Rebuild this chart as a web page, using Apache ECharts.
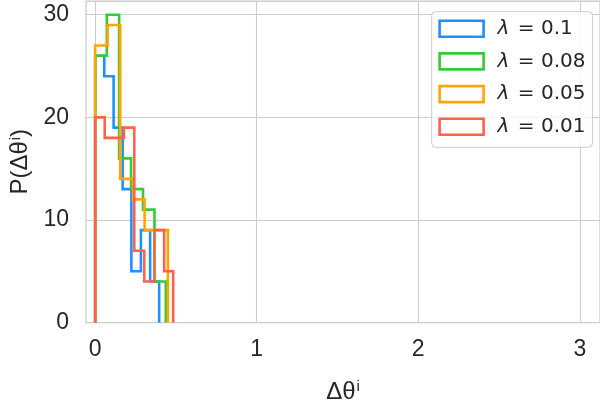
<!DOCTYPE html>
<html>
<head>
<meta charset="utf-8">
<script src="https://cdn.jsdelivr.net/npm/echarts@6/dist/echarts.min.js"></script>
<style>
html,body{margin:0;padding:0;background:#fff;}
#chart{width:600px;height:409px;}
</style>
</head>
<body>
<div id="chart"></div>
<script>
// ---- data (bin edges and counts per series) ----
const lambdaLabels = ['0.1', '0.08', '0.05', '0.01'];
const seriesColors = ['#1e90ff', '#32cd32', '#ffa500', '#ff6347'];

const edgesL01  = [0, 0.056, 0.114, 0.170, 0.224, 0.283, 0.340, 0.396];
const countsL01 = [26, 24, 19, 13, 5, 9, 4];

const edgesL008  = [0, 0.072, 0.148, 0.222, 0.296, 0.367, 0.437];
const countsL008 = [26, 30, 16, 13, 11, 4];

const edgesL005  = [0, 0.077, 0.155, 0.234, 0.306, 0.378, 0.450];
const countsL005 = [27, 29, 14, 12, 9, 9];

const edgesL001  = [0, 0.059, 0.119, 0.178, 0.242, 0.304, 0.366, 0.427, 0.483];
const countsL001 = [20, 18, 18, 19, 7, 4, 9, 5];

const xTicks = [0, 1, 2, 3];
const yTicks = [0, 10, 20, 30];

const allEdges = [edgesL01, edgesL008, edgesL005, edgesL001];
const allCounts = [countsL01, countsL008, countsL005, countsL001];

// step-outline (matplotlib histtype='step') built from edges and counts
function stepOutline(edges, counts) {
  const pts = [[edges[0], 0]];
  for (let i = 0; i < counts.length; i++) {
    pts.push([edges[i], counts[i]]);
    pts.push([edges[i + 1], counts[i]]);
  }
  pts.push([edges[edges.length - 1], 0]);
  return pts;
}

const names = lambdaLabels.map(v => 'λ = ' + v);
const series = names.map((n, i) => ({
  name: n,
  type: 'line',
  data: stepOutline(allEdges[i], allCounts[i]),
  showSymbol: false,
  symbol: 'none',
  lineStyle: { color: seriesColors[i], width: 2.6, join: 'miter', cap: 'butt' },
  itemStyle: { color: seriesColors[i] },
  z: 2 + i,
  animation: false
}));

const textColor = '#262626';
const gridColor = '#cccccc';
const font = 'Liberation Sans, Arial, sans-serif';

const chart = echarts.init(document.getElementById('chart'), null, { renderer: 'canvas' });
chart.setOption({
  animation: false,
  backgroundColor: '#ffffff',
  grid: {
    left: 84, right: -1, top: 1, bottom: 80.7,
    show: true, borderColor: gridColor, borderWidth: 1.25, backgroundColor: 'transparent'
  },
  xAxis: {
    type: 'value',
    min: -0.057, max: 3.125,
    axisLine: { show: false },
    axisTick: { show: false, customValues: xTicks },
    axisLabel: {
      customValues: xTicks,
      color: textColor, fontSize: 23, fontFamily: font,
      margin: 16
    },
    splitLine: { show: true, lineStyle: { color: gridColor, width: 1.1 } },
    name: 'Δθ{s|i}',
    nameLocation: 'middle',
    nameGap: 57,
    nameTextStyle: {
      color: textColor, fontSize: 24, fontFamily: font,
      rich: { s: { fontSize: 15, verticalAlign: 'top', padding: [0, 0, 10, 1], color: textColor, fontFamily: font } }
    }
  },
  yAxis: {
    type: 'value',
    min: 0, max: 31.34, interval: 10,
    axisLine: { show: false },
    axisTick: { show: false },
    axisLabel: {
      color: textColor, fontSize: 23, fontFamily: font,
      margin: 17,
      showMaxLabel: false,
      formatter: v => (yTicks.indexOf(v) >= 0 ? String(v) : '')
    },
    splitLine: { show: true, lineStyle: { color: gridColor, width: 1.1 } },
    name: 'P(Δθ{s|i})',
    nameLocation: 'middle',
    nameRotate: 90,
    nameGap: 51,
    nameTextStyle: {
      color: textColor, fontSize: 24, fontFamily: font,
      rich: { s: { fontSize: 15, verticalAlign: 'top', padding: [0, 0, 10, 1], color: textColor, fontFamily: font } }
    }
  },
  legend: {
    left: 431.7, top: 11.7,
    orient: 'vertical',
    padding: [7, 7, 10.5, 6.6],
    itemWidth: 44, itemHeight: 16, itemGap: 12.7,
    backgroundColor: 'rgba(255,255,255,0.8)',
    borderColor: gridColor, borderWidth: 1, borderRadius: 4,
    data: names.map((n, i) => ({
      name: n,
      icon: 'rect',
      itemStyle: { color: '#ffffff', borderColor: seriesColors[i], borderWidth: 2.6 }
    })),
    formatter: name => '{l|λ}{t|' + name.slice(1) + '}',
    textStyle: {
      color: textColor, fontSize: 20, fontFamily: 'DejaVu Sans', lineHeight: 16,
      rich: {
        l: { fontStyle: 'italic', fontSize: 20, fontFamily: 'DejaVu Sans', color: textColor, lineHeight: 16, padding: [0, 2, 0, 9] },
        t: { fontSize: 20, fontFamily: 'DejaVu Sans', color: textColor, lineHeight: 16 }
      }
    }
  },
  series: series
});
</script>
</body>
</html>
